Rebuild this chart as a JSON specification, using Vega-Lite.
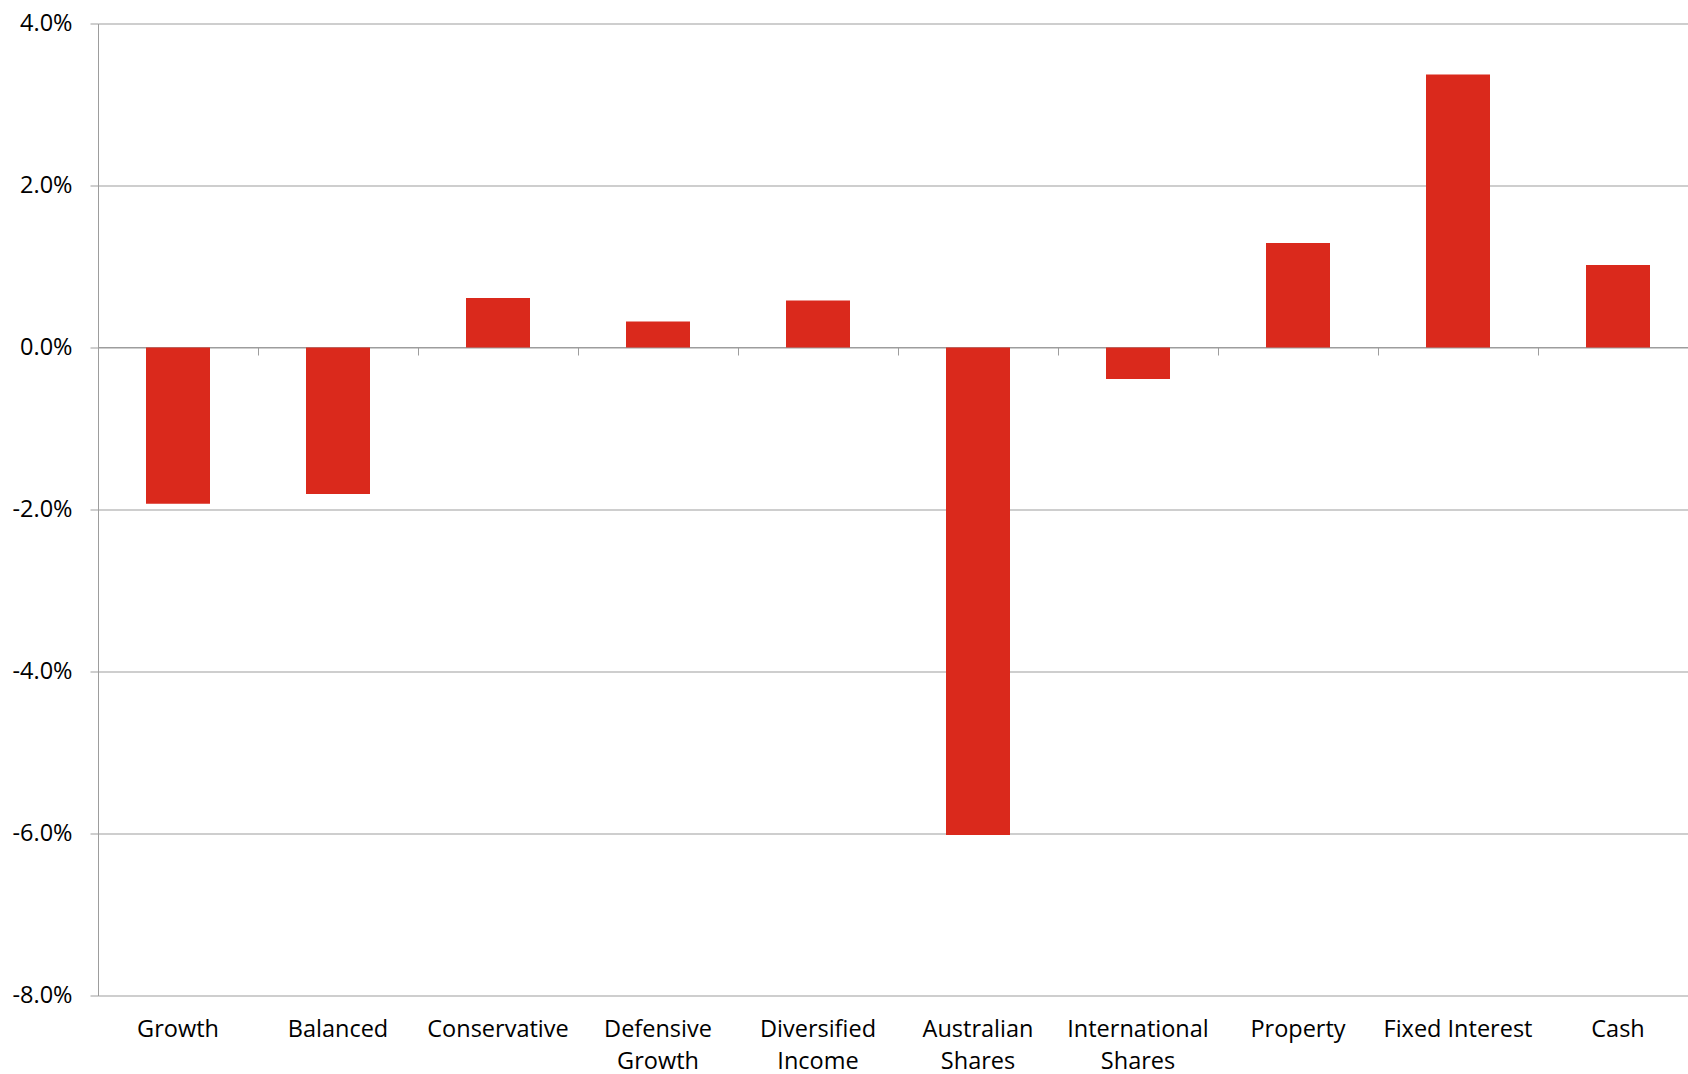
{
  "$schema": "https://vega.github.io/schema/vega-lite/v6.json",
  "width": 1590,
  "height": 972,
  "autosize": {"type": "none"},
  "padding": {"left": 98, "top": 23.5, "right": 0, "bottom": 78.5},
  "background": "white",
  "config": {"view": {"stroke": null}, "font": "Open Sans"},
  "data": {
    "values": [
      {"category": "Growth", "value": -0.0193},
      {"category": "Balanced", "value": -0.0181},
      {"category": "Conservative", "value": 0.0061},
      {"category": "Defensive Growth", "value": 0.0032},
      {"category": "Diversified Income", "value": 0.0058},
      {"category": "Australian Shares", "value": -0.0602},
      {"category": "International Shares", "value": -0.0039},
      {"category": "Property", "value": 0.0129},
      {"category": "Fixed Interest", "value": 0.0337},
      {"category": "Cash", "value": 0.0102}
    ]
  },
  "layer": [
    {
      "mark": {"type": "bar", "color": "#DA291C"},
      "encoding": {
        "x": {
          "field": "category",
          "type": "nominal",
          "sort": null,
          "scale": {"paddingInner": 0.6, "paddingOuter": 0.3, "rangeMax": 1600},
          "axis": {
            "orient": "bottom",
            "title": null,
            "domain": false,
            "ticks": false,
            "grid": false,
            "labelAngle": 0,
            "labelFont": "Open Sans",
            "labelFontSize": 23.5,
            "labelColor": "#000000",
            "labelPadding": 22,
            "labelLineHeight": 31.5,
            "labelBaseline": "top",
            "labelOverlap": false,
            "labelLimit": 400,
            "labelExpr": "length(datum.label) > 14 ? split(datum.label, ' ') : datum.label"
          }
        },
        "y": {
          "field": "value",
          "type": "quantitative",
          "scale": {"domain": [-0.08, 0.04], "nice": false, "zero": false},
          "axis": {
            "title": null,
            "format": ".1%",
            "labelExpr": "replace(datum.label, '\u2212', '-')",
            "values": [-0.08, -0.06, -0.04, -0.02, 0, 0.02, 0.04],
            "grid": true,
            "gridColor": "#9d9d9d",
            "gridWidth": 1,
            "domainColor": "#9d9d9d",
            "tickColor": "#9d9d9d",
            "tickSize": 8,
            "labelFont": "Open Sans",
            "labelFontSize": 23.5,
            "labelColor": "#000000",
            "labelPadding": 18
          }
        }
      }
    },
    {
      "mark": {"type": "bar", "opacity": 0},
      "encoding": {
        "x": {
          "field": "category",
          "type": "nominal",
          "sort": null,
          "axis": {
            "orient": "bottom",
            "offset": -648.5,
            "title": null,
            "labels": false,
            "grid": false,
            "domainColor": "#9d9d9d",
            "tickColor": "#9d9d9d",
            "tickSize": 8,
            "bandPosition": -0.75
          }
        },
        "y": {"field": "value", "type": "quantitative"}
      }
    }
  ],
  "resolve": {"axis": {"x": "independent"}}
}
